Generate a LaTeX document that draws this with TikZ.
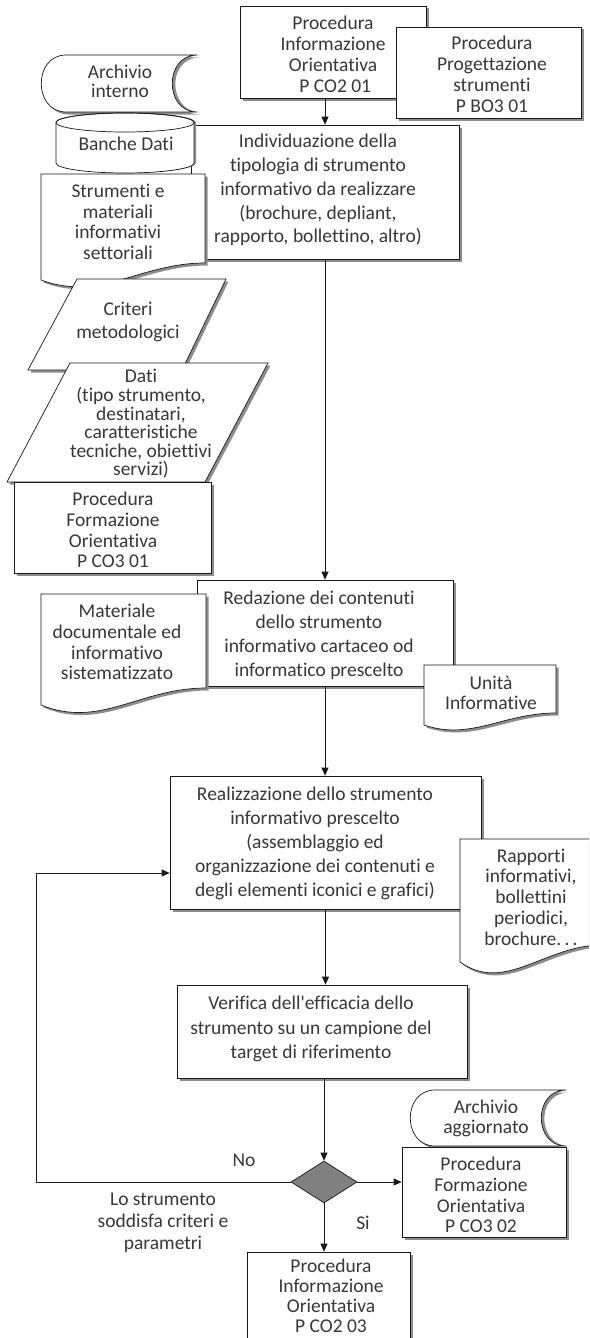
\documentclass[tikz,border=0pt]{standalone}
\usepackage{fontspec}
\setmainfont{Carlito}[Ligatures={NoCommon}]
\usetikzlibrary{shapes.geometric,arrows.meta,shadows}
\begin{document}
\begin{tikzpicture}[x=1pt,y=-1pt,
  line/.style={draw=black!90, line width=0.7pt},
  shade3/.style={drop shadow={shadow xshift=2.5pt, shadow yshift=-2.5pt, fill=black!45, opacity=1}},
  sideshade/.style={drop shadow={shadow xshift=3pt, shadow yshift=0pt, fill=black!45, opacity=1}},
  box/.style={line, fill=white, shade3, rectangle, inner sep=0pt},
  shp/.style={line, fill=white, shade3},
  txt/.style={align=center, inner sep=0pt, text=black!78, font=\fontsize{19.5}{#1}\selectfont},
  txt/.default=21,
  arr/.style={line, -{Triangle[length=8pt,width=7pt]}},
]
\fill[white] (0,0) rectangle (589,1338);
\useasboundingbox (0,0) rectangle (589,1338);
\clip (0,0) rectangle (589,1338);

% --- top procedures
\node[box, minimum width=186pt, minimum height=92pt] (pio1) at (333,52) {};
\node[txt] (pio1-t) at (333,54) {Procedura\\Informazione\\Orientativa\\\ P CO2 01};
\node[box, minimum width=185pt, minimum height=91pt] (pbo) at (488.5,72.5) {};
\node[txt] (pbo-t) at (492,74) {Procedura\\Progettazione\\strumenti\\P BO3 01};

% --- first step
\node[box, minimum width=268pt, minimum height=134pt] (main) at (325,192) {};
\node[txt=23.8] (main-t) at (318,190) {Individuazione della\\tipologia di strumento\\informativo da realizzare\\(brochure, depliant,\\rapporto, bollettino, altro)};
\draw[arr] (main.north |- pio1.south) -- (main.north);

% internal archive (stored data)
\path[shp, sideshade] (66,55) -- (197,55) .. controls (164,55) and (164,112) .. (197,112)
  -- (66,112) .. controls (33,112) and (33,55) .. (66,55) -- cycle;
\node[txt=19] (arch-t) at (120,81) {Archivio\\interno};

% databases (cylinder)
\path[line, fill=white, drop shadow={shadow xshift=2pt, shadow yshift=0pt, fill=black!45, opacity=1}]
  (56,122.5) -- (56,163) arc[start angle=180, end angle=360, x radius=69pt, y radius=10pt]
  -- (194,122.5) arc[start angle=0, end angle=180, x radius=69pt, y radius=9.5pt] -- cycle;
\draw[line] (125,122.5) ellipse[x radius=69pt, y radius=9.5pt];
\node[txt] (bd-t) at (126,144) {Banche Dati};

% sector materials (document)
\path[shp] (41,174) -- (205,174) -- (205,263) .. controls (140,263) and (100,302) .. (41,280) -- cycle;
\node[txt=20.7] (strum-t) at (118,222) {Strumenti e\\materiali\\informativi\\settoriali};

% criteria and data (parallelograms)
\path[shp] (77,279) -- (226,279) -- (182,370) -- (28,370) -- cycle;
\node[txt=23] (crit-t) at (128,322) {Criteri\\metodologici};
\path[shp] (70,363) -- (268,363) -- (205,482) -- (7,482) -- cycle;
\node[txt=18.6] (dati-t) at (141,424) {Dati\\(tipo strumento,\\destinatari,\\caratteristiche\\tecniche, obiettivi\\servizi)};

\node[box, minimum width=197pt, minimum height=91pt] (pfo1) at (112.5,527.5) {};
\node[txt=20.7] (pfo1-t) at (113,530) {Procedura\\Formazione\\Orientativa\\P CO3 01};

% --- drafting
\node[box, minimum width=256pt, minimum height=106pt] (red) at (325,633) {};
\node[txt=24] (red-t) at (319,635) {Redazione dei contenuti\\dello strumento\\informativo cartaceo od\\informatico prescelto};
\draw[arr] (main.south) -- (red.north);

\path[shp] (41,594) -- (206,594) -- (206,688) .. controls (140,688) and (100,729) .. (41,705) -- cycle;
\node[txt=20.7] (mat-t) at (117,642) {Materiale\\documentale ed\\informativo\\sistematizzato};

\path[shp] (424,665) -- (556,665) -- (556,713) .. controls (503,713) and (471,741) .. (424,725) -- cycle;
\node[txt=20] (ui-t) at (491,693) {Unità\\Informative};

% --- production
\node[box, minimum width=311pt, minimum height=133pt] (real) at (325.5,842.5) {};
\node[txt=24] (real-t) at (315,843) {Realizzazione dello strumento\\informativo prescelto\\(assemblaggio ed\\organizzazione dei contenuti e\\degli elementi iconici e grafici)};
\draw[arr] (red.south) -- (red.south |- real.north);

\path[shp] (460,839) -- (602,839) -- (602,945) .. controls (545,945) and (505,994) .. (460,962) -- cycle;
\node[txt=20.75] (rap-t) at (531,897) {Rapporti\\informativi,\\bollettini\\periodici,\\brochure.\,.\,.};

% --- verification
\node[box, minimum width=290pt, minimum height=93pt] (ver) at (322,1031.5) {};
\node[txt=24.5] (ver-t) at (311,1029) {Verifica dell\textquotesingle efficacia dello\\strumento su un campione del\\target di riferimento};
\draw[arr] (real.south) -- (real.south |- ver.north);

% --- decision
\node[diamond, line, fill=black!50, minimum width=66pt, minimum height=42pt, inner sep=0pt] (dec) at (324,1182) {};
\draw[arr] (dec.north |- ver.south) -- (dec.north);
\coordinate (loopturn) at (36,873);
\draw[arr] (dec.west) -| (loopturn) -- (loopturn -| real.west);
\node[txt] (no) at (244,1160) {No};
\node[txt] (si) at (363,1223) {Si};
\node[txt=22] (cond) at (163,1223) {Lo strumento\\soddisfa criteri e\\parametri};

% updated archive and follow-up procedures
\path[shp, sideshade] (435,1090) -- (566,1090) .. controls (533,1090) and (533,1146) .. (566,1146)
  -- (435,1146) .. controls (402,1146) and (402,1090) .. (435,1090) -- cycle;
\node[txt=20] (arch2-t) at (486,1118) {Archivio\\aggiornato};

\node[box, minimum width=164pt, minimum height=90pt] (pfo2) at (484,1192) {};
\node[txt=20.7] (pfo2-t) at (481,1195) {Procedura\\Formazione\\Orientativa\\P CO3 02};
\draw[arr] (dec.east) -- (dec.east -| pfo2.west);

\node[box, minimum width=163pt, minimum height=98pt] (pio3) at (328.5,1301) {};
\node[txt=20] (pio3-t) at (331,1296) {Procedura\\Informazione\\Orientativa\\P CO2 03};
\draw[arr] (dec.south) -- (dec.south |- pio3.north);
\end{tikzpicture}
\end{document}
